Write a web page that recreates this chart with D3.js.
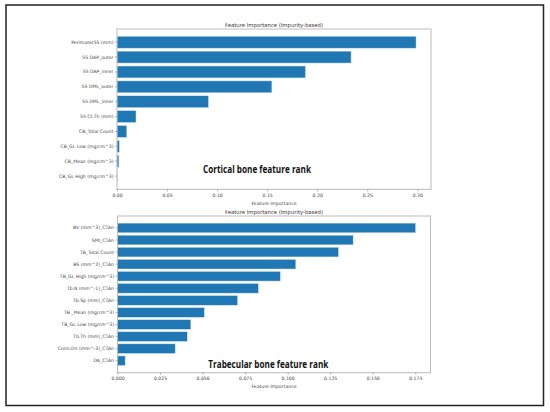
<!DOCTYPE html>
<html lang="en">
  <head>
    <meta charset="UTF-8" />
    <title>Feature Importance</title>
    <script src="https://d3js.org/d3.v7.min.js"></script>
    <style>
      body {
        margin: 0;
        background: #fff;
      }
      svg {
        display: block;
      }
      .tick text {
        font-family: "DejaVu Sans", sans-serif;
        fill: #444;
      }
    </style>
  </head>
  <body>
    <svg width="550" height="412"></svg>

    <script>
      // Cortical bone features (top to bottom)
      const corticalFeatures = [
        "Perimater55 (mm)",
        "55 DAP_outer",
        "55 DAP_inner",
        "55 DML_outer",
        "55 DML_inner",
        "55 Ct.Th (mm)",
        "CB_Total Count",
        "CB_GL Low (mg/cm^3)",
        "CB_Mean (mg/cm^3)",
        "CB_GL High (mg/cm^3)"
      ];
      const corticalValues = [0.2987, 0.2338, 0.1882, 0.1547, 0.0914, 0.019, 0.0098, 0.0023, 0.0019, 0.0001];
      const corticalTicks = [0, 0.05, 0.1, 0.15, 0.2, 0.25, 0.3];

      // Trabecular bone features (top to bottom)
      const trabecularFeatures = [
        "BV (mm^3)_CTAn",
        "SMI_CTAn",
        "TB_Total Count",
        "BS (mm^2)_CTAn",
        "TB_GL High (mg/cm^3)",
        "Tb.N (mm^-1)_CTAn",
        "Tb.Sp (mm)_CTAn",
        "TB _Mean (mg/cm^3)",
        "TB_GL Low (mg/cm^3)",
        "Tb.Th (mm)_CTAn",
        "Conn.Dn (mm^-3)_CTAn",
        "DA_CTAn"
      ];
      const trabecularValues = [0.1752, 0.1385, 0.1299, 0.1048, 0.0957, 0.0828, 0.0706, 0.051, 0.0431, 0.041, 0.0339, 0.0045];
      const trabecularTicks = [0, 0.025, 0.05, 0.075, 0.1, 0.125, 0.15, 0.175];

      const svg = d3.select("svg");

      // outer frame
      svg.append("rect")
        .attr("x", 6)
        .attr("y", 5)
        .attr("width", 537.5)
        .attr("height", 400.5)
        .attr("fill", "none")
        .attr("stroke", "#222")
        .attr("stroke-width", 1.5);

      function drawPanel(box, features, values, ticks, fmt, rankText, rankPos) {
        const n = features.length;
        const x = d3.scaleLinear()
          .domain([0, d3.max(values) * 1.05])
          .range([box.left, box.right]);
        // matplotlib-like: bar height 0.8, 5% margins
        const y = d3.scaleBand()
          .domain(features)
          .range([box.top, box.bottom])
          .paddingInner(0.2)
          .paddingOuter(0.05 * (n - 0.2))
          .align(0.5);

        const g = svg.append("g");

        g.selectAll("rect.bar")
          .data(features)
          .join("rect")
          .attr("class", "bar")
          .attr("x", x(0))
          .attr("y", d => y(d))
          .attr("width", (d, i) => x(values[i]) - x(0))
          .attr("height", y.bandwidth())
          .attr("fill", "#1f77b4")
          .attr("stroke", "#cfe2f3")
          .attr("stroke-width", 0.5);

        // axes box
        g.append("rect")
          .attr("x", box.left)
          .attr("y", box.top)
          .attr("width", box.right - box.left)
          .attr("height", box.bottom - box.top)
          .attr("fill", "none")
          .attr("stroke", "#bbb")
          .attr("stroke-width", 1);

        const xAxis = g.append("g")
          .attr("transform", `translate(0,${box.bottom})`)
          .call(d3.axisBottom(x).tickValues(ticks).tickFormat(d3.format(fmt)).tickSize(2).tickPadding(2));
        xAxis.select(".domain").remove();
        xAxis.selectAll(".tick line").attr("stroke", "#666").attr("stroke-width", 0.5);
        xAxis.selectAll(".tick text").attr("font-size", 4.6);

        const yAxis = g.append("g")
          .attr("transform", `translate(${box.left},0)`)
          .call(d3.axisLeft(y).tickSize(2).tickPadding(1.5));
        yAxis.select(".domain").remove();
        yAxis.selectAll(".tick line").attr("stroke", "#666").attr("stroke-width", 0.5);
        yAxis.selectAll(".tick text").attr("font-size", 4.6);

        g.append("text")
          .attr("x", (box.left + box.right) / 2)
          .attr("y", box.top - 2.5)
          .attr("text-anchor", "middle")
          .attr("font-family", "DejaVu Sans, sans-serif")
          .attr("font-size", 5.3)
          .attr("fill", "#333")
          .text("Feature Importance (Impurity-based)");

        g.append("text")
          .attr("x", (box.left + box.right) / 2)
          .attr("y", box.bottom + 15.5)
          .attr("text-anchor", "middle")
          .attr("font-family", "DejaVu Sans, sans-serif")
          .attr("font-size", 4.6)
          .attr("fill", "#444")
          .text("Feature Importance");

        g.append("text")
          .attr("x", rankPos[0])
          .attr("y", rankPos[1])
          .attr("font-family", "Open Sans, sans-serif")
          .attr("font-weight", "bold")
          .attr("font-size", 11)
          .attr("fill", "#111")
          .attr("textLength", rankPos[2])
          .attr("lengthAdjust", "spacingAndGlyphs")
          .text(rankText);
      }

      drawPanel({ left: 117, right: 431, top: 29, bottom: 189.3 },
        corticalFeatures, corticalValues, corticalTicks, ".2f",
        "Cortical bone feature rank", [203, 173, 108]);

      drawPanel({ left: 117.5, right: 430.5, top: 216, bottom: 372.7 },
        trabecularFeatures, trabecularValues, trabecularTicks, ".3f",
        "Trabecular bone feature rank", [208.3, 367.5, 120]);
    </script>
  </body>
</html>
